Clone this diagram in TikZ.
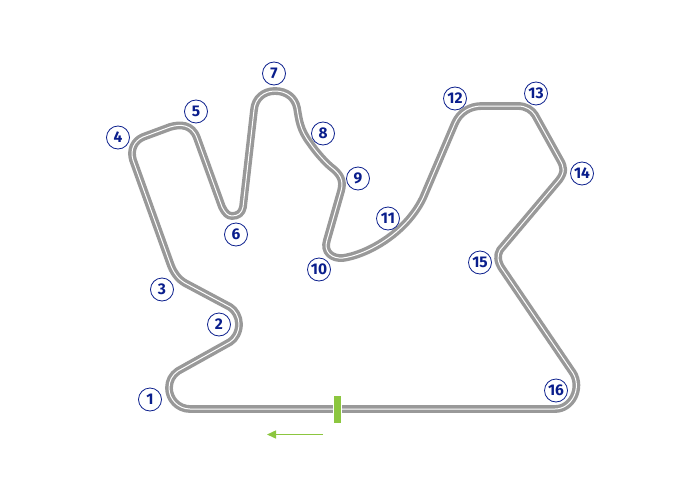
\documentclass[tikz,border=0pt]{standalone}
\usepackage{fontspec}
\setmainfont{Fira Sans}
\usepackage{xcolor}
\usepackage{tikz}
\usetikzlibrary{arrows.meta}
\definecolor{trackgray}{HTML}{999999}
\definecolor{turnblue}{HTML}{0A1E8C}
\definecolor{finishgreen}{HTML}{8CC63F}

\begin{document}
\begin{tikzpicture}[
    x=1pt, y=-1pt,
    track/.style={
        draw=trackgray,
        line width=3.4pt,
        double=white,
        double distance=1pt,
        line join=round
    },
    turn/.style={
        draw=turnblue,
        circle,
        line width=0.8pt,
        minimum size=23pt,
        inner sep=0pt,
        fill=white,
        text=turnblue,
        font=\fontsize{15.5}{15.5}\selectfont\bfseries
    },
    finishbar/.style={
        draw=white,
        line width=1.2pt,
        fill=finishgreen,
        minimum width=7.5pt,
        minimum height=28.5pt,
        inner sep=0pt
    },
    arrow/.style={-{Triangle[length=9pt,width=8pt]}, draw=finishgreen, line width=1.5pt}
]
\useasboundingbox (0,0) rectangle (700,500);

% circuit
\draw[track] (338,409) -- (190,409)
  .. controls (178,409) and (169,399) .. (169,388)
  .. controls (169,381) and (172,375) .. (178,371)
  -- (230,342)
  .. controls (235,339) and (239,332) .. (239,324)
  .. controls (239,317) and (235,310) .. (230,307)
  -- (185,283)
  .. controls (178,279) and (173,272) .. (170,263)
  -- (133,160)
  .. controls (130,150) and (134,141) .. (143,137)
  -- (170,127)
  .. controls (180,124) and (192,124) .. (197,138)
  -- (222,207)
  .. controls (225,213) and (228,216) .. (232,216)
  .. controls (238,216) and (242,213) .. (243,207)
  -- (254,110)
  .. controls (255,98) and (264,91) .. (275,91)
  .. controls (287,91) and (295,98) .. (297,108)
  .. controls (299,120) and (300,130) .. (310,143)
  .. controls (316,152) and (325,162) .. (331,167)
  .. controls (340,174) and (344,180) .. (341,191)
  -- (327,240)
  .. controls (323,252) and (332,259) .. (343,258)
  .. controls (365,255) and (405,235) .. (423,198)
  -- (455,123)
  .. controls (460,112) and (470,106) .. (482,106)
  -- (518,106)
  .. controls (526,106) and (532,110) .. (535,115)
  -- (560,160)
  .. controls (564,167) and (565,172) .. (559,180)
  -- (500,250)
  .. controls (497,255) and (497,262) .. (503,270)
  -- (573,373)
  .. controls (582,388) and (572,409) .. (555,409)
  -- cycle;

% start line and direction
\node[finishbar] (finish) at (337.5,409.5) {};
\coordinate (dirstart) at (323,434.5);
\coordinate (dirend) at (267,434.5);
\draw[arrow] (dirstart) -- (dirend);

% turns
\node[turn] (turn1) at (150,399.5) {1};
\node[turn] (turn2) at (219,324.5) {2};
\node[turn] (turn3) at (162,289.5) {3};
\node[turn] (turn4) at (118,137.5) {4};
\node[turn] (turn5) at (196,111.5) {5};
\node[turn] (turn6) at (236,234.5) {6};
\node[turn] (turn7) at (274,73.5) {7};
\node[turn] (turn8) at (323,133.5) {8};
\node[turn] (turn9) at (358,178.5) {9};
\node[turn] (turn10) at (319,269.5) {10};
\node[turn] (turn11) at (388,218.5) {11};
\node[turn] (turn12) at (455,98.5) {12};
\node[turn] (turn13) at (536,93.5) {13};
\node[turn] (turn14) at (582,173.5) {14};
\node[turn] (turn15) at (480,262.5) {15};
\node[turn] (turn16) at (556,390.5) {16};
\end{tikzpicture}
\end{document}
